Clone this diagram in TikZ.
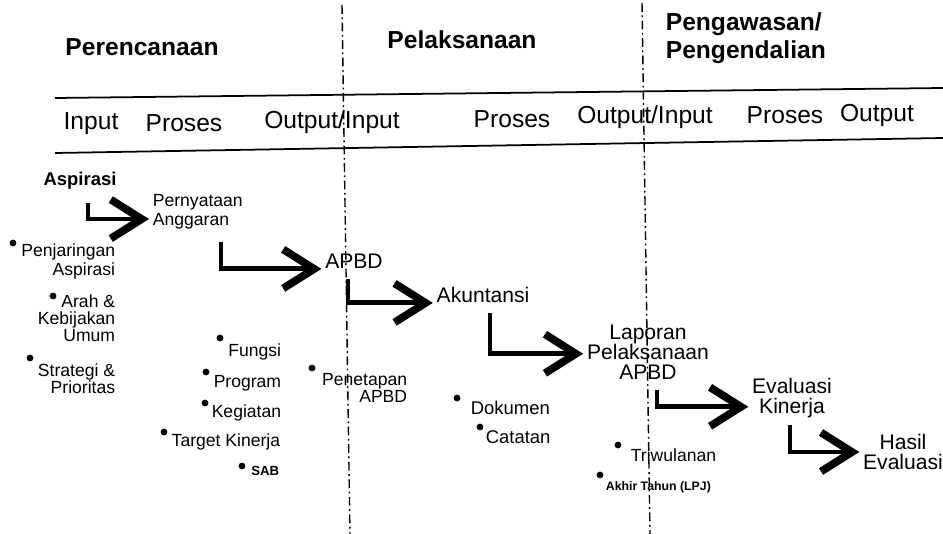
\documentclass[tikz,border=0pt]{standalone}
\usepackage{fontspec}
\setmainfont{Liberation Sans}
\usetikzlibrary{arrows.meta}

\begin{document}
\begin{tikzpicture}[x=0.02cm, y=-0.02cm, inner sep=2pt,
    head/.style = {font=\fontsize{14}{15.9}\selectfont\bfseries},
    col/.style = {font=\fontsize{14}{16}\selectfont},
    big/.style = {font=\fontsize{12}{11.4}\selectfont, align=center},
    small/.style = {font=\fontsize{10}{10.8}\selectfont},
    tight/.style = {font=\fontsize{10}{9.7}\selectfont},
    tiny/.style = {font=\fontsize{7}{8}\selectfont\bfseries},
    dot/.style = {draw, circle, fill, inner sep=0pt, minimum size=3.4pt},
    flow/.style = {line width=2.8pt, -{Straight Barb[length=0.62cm, width=0.78cm, line width=4.4pt]}},
    divider/.style = {line width=0.8pt, dash pattern=on 5pt off 2pt on 1pt off 2pt}]
    \useasboundingbox (0,0) rectangle (943,534);

    \node[head] (per) at (142,47) {Perencanaan};
    \node[head] (pel) at (462,40) {Pelaksanaan};
    \node[head, anchor=west, align=left] (peng) at (662,38) {Pengawasan/\\Pengendalian};

    \draw[line width=1pt] (55,98) -- (943,88);
    \draw[line width=1pt] (55,153) -- (943,138);

    \node[col] (in1) at (91,124) {Input};
    \node[col] (pr1) at (184,123) {Proses};
    \node[col] (oi1) at (332,122) {Output/Input};
    \node[col] (pr2) at (512,119) {Proses};
    \node[col] (oi2) at (645,117) {Output/Input};
    \node[col] (pr3) at (785,115) {Proses};
    \node[col] (out) at (877,115) {Output};

    \coordinate (d1t) at (342,5);
    \coordinate (d1b) at (350,534);
    \coordinate (d2t) at (642,3);
    \coordinate (d2b) at (650,534);
    \draw[divider] (d1t) -- (d1b);
    \draw[divider] (d2t) -- (d2b);

    \node[font=\fontsize{10.5}{12}\selectfont\bfseries] (asp) at (80,181) {Aspirasi};
    \node[small, anchor=west, align=left] (pern) at (149,212) {Pernyataan\\Anggaran};
    \node[big] (apbd) at (354,261) {APBD};
    \node[big] (akun) at (483,295) {Akuntansi};
    \node[big] (lap) at (648,352) {Laporan\\Pelaksanaan\\APBD};
    \node[big] (eval) at (792,398) {Evaluasi\\Kinerja};
    \node[big] (hasil) at (903,452) {Hasil\\Evaluasi};

    \coordinate (s1) at (88,203);
    \coordinate (s2) at (221,242);
    \coordinate (s3) at (348,279);
    \coordinate (s4) at (490,313);
    \coordinate (s5) at (657,390);
    \coordinate (s6) at (790,425);
    \draw[flow] (s1) |- ([yshift=-4pt]pern.west);
    \draw[flow] (s2) |- ([yshift=-4.5pt]apbd.west);
    \draw[flow] (s3) |- ([yshift=-4.5pt]akun.west);
    \draw[flow] (s4) |- ([yshift=-1pt]lap.west);
    \draw[flow] (s5) |- ([yshift=-5pt]eval.west);
    \draw[flow] (s6) |- (hasil.west);

    \node[small, anchor=east, align=right] (penj) at (119,261) {Penjaringan\\Aspirasi};
    \node[dot] (b1) at (13,243) {};
    \node[tight, anchor=east, align=right] (arah) at (119,318) {Arah \&\\Kebijakan\\Umum};
    \node[dot] (b2) at (53,296) {};
    \node[tight, anchor=east, align=right] (strat) at (119,379) {Strategi \&\\Prioritas};
    \node[dot] (b3) at (30,358) {};

    \node[small, anchor=east] (fungsi) at (285,352) {Fungsi};
    \node[dot] (b4) at (220,338) {};
    \node[small, anchor=east] (prog) at (285,383) {Program};
    \node[dot] (b5) at (206,372) {};
    \node[small, anchor=east] (keg) at (285,413) {Kegiatan};
    \node[dot] (b6) at (205,403) {};
    \node[small, anchor=east] (target) at (284,442) {Target Kinerja};
    \node[dot] (b7) at (164,432) {};
    \node[tiny, font=\fontsize{7.5}{8}\selectfont\bfseries, anchor=east] (sab) at (283,471) {SAB};
    \node[dot] (b8) at (242,466) {};

    \node[tight, anchor=east, align=right] (tetap) at (411,388) {Penetapan\\APBD};
    \node[dot] (b9) at (312,368) {};
    \node[small, font=\fontsize{10.5}{12}\selectfont, anchor=west] (dok) at (467,408) {Dokumen};
    \node[dot] (b10) at (457,398) {};
    \node[small, font=\fontsize{10.5}{12}\selectfont, anchor=west] (cat) at (482,437) {Catatan};
    \node[dot] (b11) at (480,427) {};
    \node[small, anchor=west] (tri) at (627,455) {Triwulanan};
    \node[dot] (b12) at (618,445) {};
    \node[tiny, anchor=west] (akhir) at (602,487) {Akhir Tahun (LPJ)};
    \node[dot] (b13) at (600,475) {};
\end{tikzpicture}
\end{document}
